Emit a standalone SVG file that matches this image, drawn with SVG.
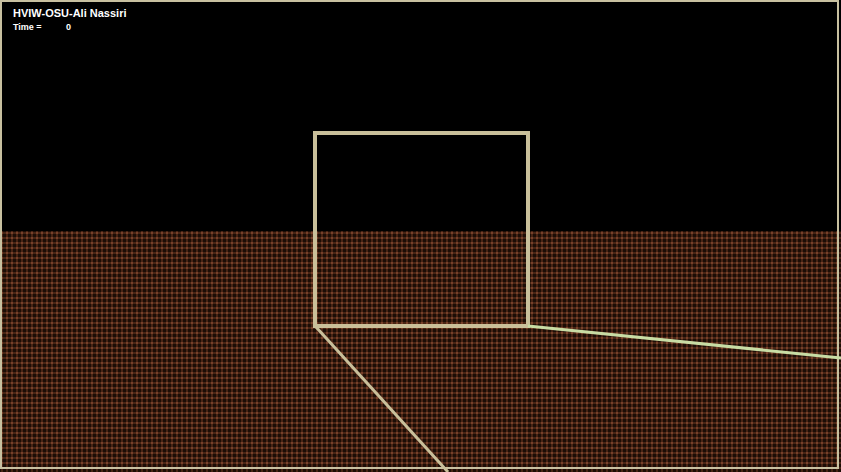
<svg xmlns="http://www.w3.org/2000/svg" width="841" height="472" viewBox="0 0 841 472">
<style>
.t{font-family:"Liberation Sans",Arial,sans-serif;fill:#ffffff;font-weight:bold}
</style>
<defs>
<pattern id="grid" x="0" y="231" width="5" height="5" patternUnits="userSpaceOnUse">
<rect width="5" height="5" fill="#1c0d06"/>
<rect x="0" y="1" width="5" height="2" fill="#472414"/>
<rect x="1" y="0" width="2" height="5" fill="#472414"/>
<rect x="1" y="1" width="2" height="2" fill="#76402a"/>
</pattern>
</defs>
<rect width="841" height="472" fill="#000"/>
<rect x="0" y="231" width="841" height="241" fill="url(#grid)"/>
<rect x="1" y="1" width="837" height="467" fill="none" stroke="#c8c0a0" stroke-width="2"/>
<g id="title">
<text class="t" x="13" y="17" font-size="11">HVIW-OSU-Ali Nassiri</text>
<text class="t" x="13" y="30" font-size="9">Time =</text>
<text class="t" x="66" y="30" font-size="9">0</text>
</g>
<g id="zoom-box">
<rect x="315" y="133" width="213" height="193" fill="none" stroke="#c9bf9a" stroke-width="4"/>
</g>
<g id="connectors">
<line x1="528" y1="326" x2="841" y2="358" stroke="#c8dca4" stroke-width="3"/>
<line x1="316" y1="327" x2="448" y2="472" stroke="#c9bf9a" stroke-width="3"/>
</g>
</svg>
